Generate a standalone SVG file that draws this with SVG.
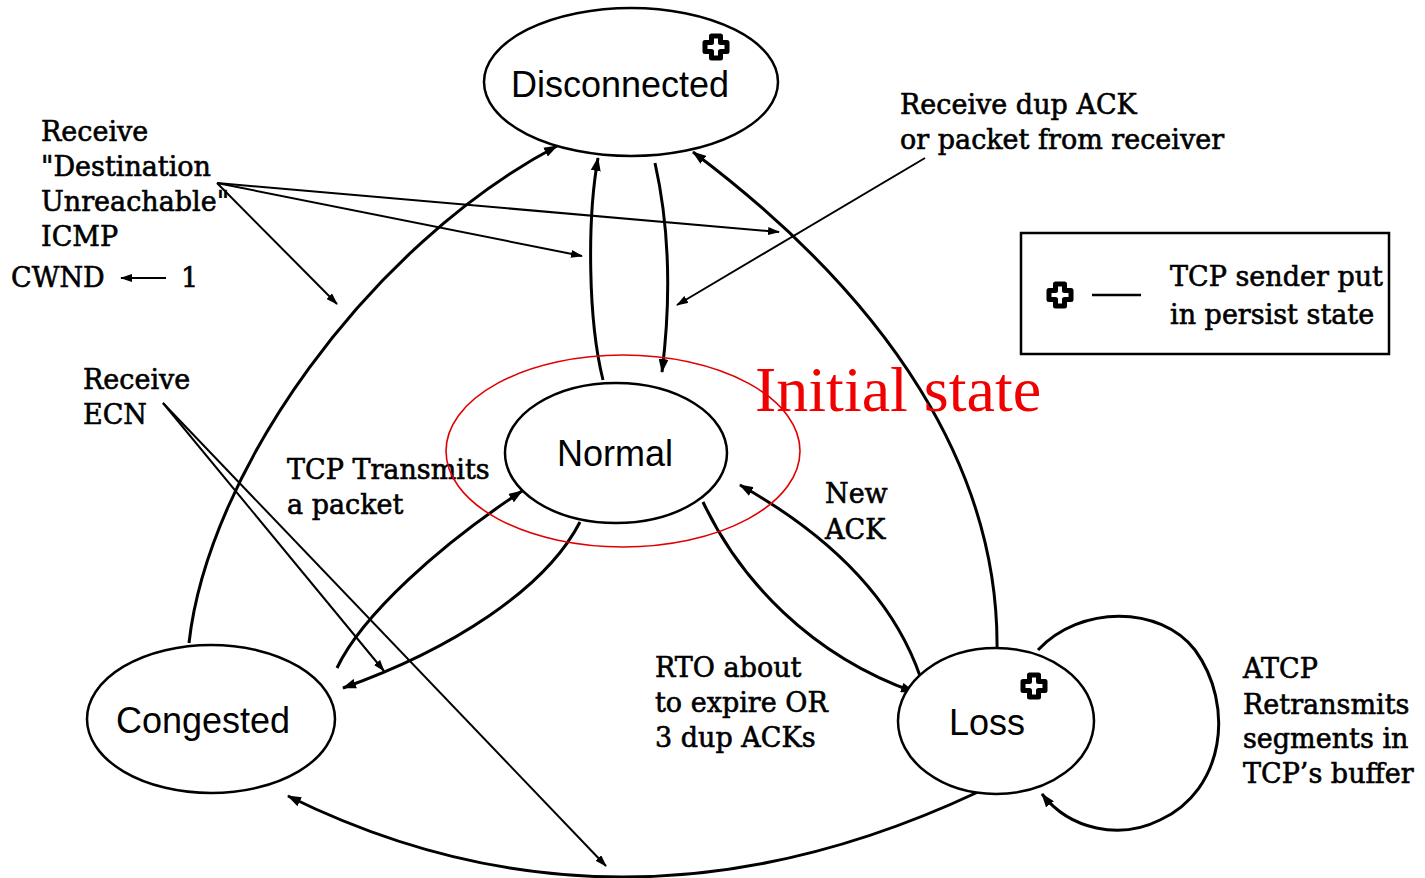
<svg xmlns="http://www.w3.org/2000/svg" xmlns:xlink="http://www.w3.org/1999/xlink" width="1425" height="878" viewBox="0 0 1425 878">
  <style>
    .state { fill: #fff; stroke: #000; stroke-width: 2.5; }
    .name { font-family: "Liberation Sans", Arial, sans-serif; font-size: 36px; fill: #000; text-anchor: middle; }
    .lbl { font-family: "DejaVu Serif", "Liberation Serif", serif; font-size: 27px; fill: #000; stroke: #000; stroke-width: 0.6; }
    .edge { fill: none; stroke: #000; stroke-width: 3; }
    .thin { fill: none; stroke: #000; stroke-width: 2; }
    .note { fill: none; stroke: #e00000; stroke-width: 1.6; }
    .notetext { font-family: "Liberation Serif", "Times New Roman", serif; font-size: 64px; fill: #f00000; }
  </style>
  <defs>
    <marker id="arrow" viewBox="0 0 14 10" refX="13" refY="5" markerWidth="14" markerHeight="10" markerUnits="userSpaceOnUse" orient="auto">
      <path d="M0,0 L14,5 L0,10 Z" fill="#000"/>
    </marker>
    <marker id="arrowSmall" viewBox="0 0 12 8" refX="11" refY="4" markerWidth="12" markerHeight="8" markerUnits="userSpaceOnUse" orient="auto">
      <path d="M0,0 L12,4 L0,8 Z" fill="#000"/>
    </marker>
    <!-- persist-state badge: outlined cross -->
    <path id="plus" d="M-4.5,-11 H4.5 V-4.5 H11 V4.5 H4.5 V11 H-4.5 V4.5 H-11 V-4.5 H-4.5 Z" fill="#fff" stroke="#000" stroke-width="5" stroke-linejoin="round"/>
  </defs>

  <rect width="1425" height="878" fill="#fff"/>

  <!-- transitions -->
  <g id="connectors">
    <!-- Congested -> Disconnected -->
    <path class="edge" d="M189,643 C208,472 368,246 557,146" marker-end="url(#arrow)"/>
    <!-- Normal -> Disconnected -->
    <path class="edge" d="M603,380 C588,320 587,220 598,158" marker-end="url(#arrow)"/>
    <!-- Disconnected -> Normal -->
    <path class="edge" d="M655,163 C670,230 671,300 662,372" marker-end="url(#arrow)"/>
    <!-- Loss -> Disconnected -->
    <path class="edge" d="M997,652 C1000,470 890,300 693,152" marker-end="url(#arrow)"/>
    <!-- Normal -> Loss -->
    <path class="edge" d="M703,502 C740,580 810,655 914,692" marker-end="url(#arrow)"/>
    <!-- Loss -> Normal -->
    <path class="edge" d="M920,676 C890,590 820,530 740,485" marker-end="url(#arrow)"/>
    <!-- Congested -> Normal -->
    <path class="edge" d="M337,668 C362,615 440,545 522,491" marker-end="url(#arrow)"/>
    <!-- Normal -> Congested -->
    <path class="edge" d="M580,522 C545,590 450,650 343,688" marker-end="url(#arrow)"/>
    <!-- Loss self loop -->
    <path class="edge" d="M1038,650 C1080,605 1160,605 1195,650 C1235,705 1225,790 1160,820 C1120,840 1070,830 1042,794" marker-end="url(#arrow)"/>
    <!-- Loss -> Congested -->
    <path class="edge" d="M978,792 Q620,960 288,796" marker-end="url(#arrow)"/>

    <!-- label pointers -->
    <path class="thin" d="M217,183 L779,232" marker-end="url(#arrowSmall)"/>
    <path class="thin" d="M217,183 L582,256" marker-end="url(#arrowSmall)"/>
    <path class="thin" d="M217,183 L337,304" marker-end="url(#arrowSmall)"/>
    <path class="thin" d="M925,158 L677,305" marker-end="url(#arrowSmall)"/>
    <path class="thin" d="M163,403 L384,671" marker-end="url(#arrowSmall)"/>
    <path class="thin" d="M163,403 L606,866" marker-end="url(#arrowSmall)"/>
    <path class="thin" d="M166,278 L121,278" marker-end="url(#arrowSmall)"/>
  </g>

  <!-- states -->
  <g id="disconnected">
    <ellipse class="state" cx="631" cy="82" rx="147" ry="74"/>
    <text class="name" x="620" y="97">Disconnected</text>
    <use xlink:href="#plus" x="716" y="47"/>
  </g>
  <g id="normal">
    <ellipse class="state" cx="616" cy="453" rx="111" ry="70"/>
    <text class="name" x="615" y="466">Normal</text>
  </g>
  <g id="congested">
    <ellipse class="state" cx="211" cy="719" rx="124" ry="74"/>
    <text class="name" x="203" y="733">Congested</text>
  </g>
  <g id="loss">
    <ellipse class="state" cx="996" cy="721" rx="98" ry="73"/>
    <text class="name" x="987" y="735">Loss</text>
    <use xlink:href="#plus" x="1034" y="686"/>
  </g>

  <!-- legend -->
  <g id="legend">
    <rect x="1021" y="233" width="368" height="121" fill="none" stroke="#000" stroke-width="2.5"/>
    <use xlink:href="#plus" x="1060" y="295"/>
    <line x1="1092" y1="295" x2="1141" y2="295" stroke="#000" stroke-width="2.5"/>
    <text class="lbl" x="1170" y="286">TCP sender put</text>
    <text class="lbl" x="1170" y="324">in persist state</text>
  </g>

  <!-- transition labels -->
  <g id="labels">
    <text class="lbl" x="41" y="141">Receive</text>
    <text class="lbl" x="41" y="176">"Destination</text>
    <text class="lbl" x="41" y="211">Unreachable"</text>
    <text class="lbl" x="41" y="246">ICMP</text>
    <text class="lbl" x="11" y="287">CWND</text>
    <text class="lbl" x="181" y="287">1</text>

    <text class="lbl" x="900" y="114">Receive dup ACK</text>
    <text class="lbl" x="900" y="149">or packet from receiver</text>

    <text class="lbl" x="83" y="389">Receive</text>
    <text class="lbl" x="83" y="424">ECN</text>

    <text class="lbl" x="287" y="479">TCP Transmits</text>
    <text class="lbl" x="287" y="514">a packet</text>

    <text class="lbl" x="825" y="503">New</text>
    <text class="lbl" x="825" y="539">ACK</text>

    <text class="lbl" x="655" y="677">RTO about</text>
    <text class="lbl" x="655" y="712">to expire OR</text>
    <text class="lbl" x="655" y="747">3 dup ACKs</text>

    <text class="lbl" x="1243" y="678">ATCP</text>
    <text class="lbl" x="1243" y="714">Retransmits</text>
    <text class="lbl" x="1243" y="748">segments in</text>
    <text class="lbl" x="1243" y="783">TCP’s buffer</text>
  </g>

  <!-- initial state annotation -->
  <g id="initial-state">
    <ellipse class="note" cx="623" cy="451" rx="177" ry="96"/>
    <text class="notetext" x="755" y="411">Initial state</text>
  </g>
</svg>
